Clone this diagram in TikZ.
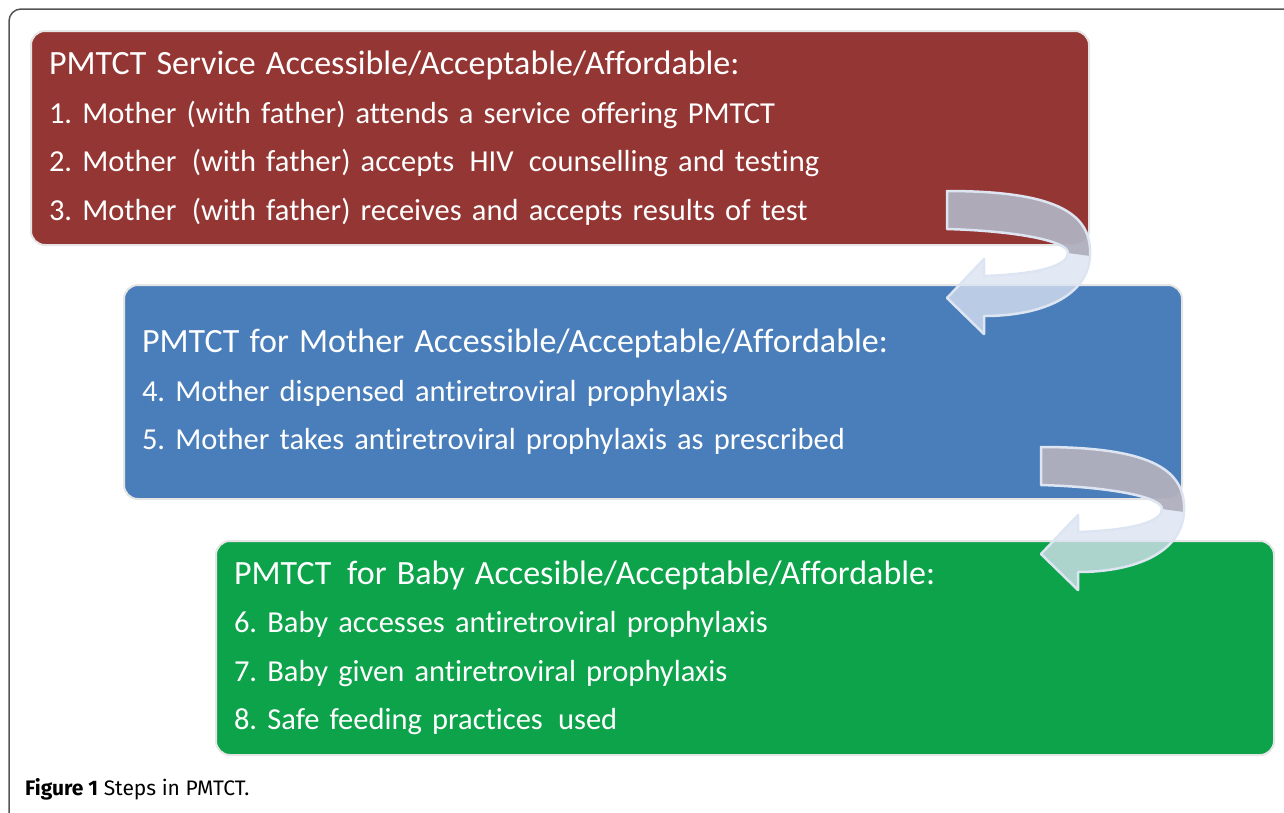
\documentclass[tikz,border=0pt]{standalone}
\usepackage{fontspec}
\setmainfont[Ligatures=CommonOff]{Carlito}
\newfontfamily\capfont{Fira Sans}
\usetikzlibrary{positioning}
\frenchspacing

\definecolor{pmtctred}{RGB}{148,54,52}
\definecolor{pmtctblue}{RGB}{74,126,187}
\definecolor{pmtctgreen}{RGB}{13,163,75}
\definecolor{arrowlight}{RGB}{218,226,241}
\definecolor{arrowdark}{RGB}{168,166,180}
\definecolor{arrowedge}{RGB}{222,229,242}
\definecolor{framegray}{RGB}{85,85,85}

\newcommand\stagehead[1]{{\fontsize{34}{48.5}\selectfont #1}}

\begin{document}
\begin{tikzpicture}[
  x=1pt, y=-1pt,
  stage/.style={rectangle, rounded corners=14pt, draw=black!10, line width=2pt,
    text=white, minimum width=1058pt, minimum height=214pt, text width=1022pt,
    inner xsep=18pt, align=left, anchor=north west,
    font=\fontsize{30.5}{48.5}\selectfont},
  turn/.pic={
    % light ribbon
    \fill[arrowlight, fill opacity=.78]
      (0,0) .. controls (115,0) and (145,25) .. (143,65)
      .. controls (141,105) and (95,125) .. (37,125)
      -- (37,143) -- (0,107) -- (37,68) -- (37,85)
      .. controls (95,83) and (121,74) .. (121,62)
      .. controls (121,50) and (70,40) .. (0,38) -- cycle;
    % darker back of the ribbon
    \fill[arrowdark, fill opacity=.8]
      (0,0) .. controls (115,0) and (145,25) .. (143,65)
      -- (121,62) .. controls (121,50) and (70,40) .. (0,38) -- cycle;
    \draw[arrowedge, line width=2.5pt, line join=round]
      (0,0) .. controls (115,0) and (145,25) .. (143,65)
      .. controls (141,105) and (95,125) .. (37,125)
      -- (37,143) -- (0,107) -- (37,68) -- (37,85)
      .. controls (95,83) and (121,74) .. (121,62)
      .. controls (121,50) and (70,40) .. (0,38) -- cycle;
  }]

  \useasboundingbox (0,0) rectangle (1284,812);
  \draw[framegray, line width=1.5pt, rounded corners=12pt]
    (1300,9) -- (9,9) -- (9,826) -- (1300,826);

  \node[stage, fill=pmtctred] (service) at (30,30) {%
    \stagehead{PMTCT Service Accessible/Acceptable/Affordable:}\\
    1. Mother (with father) attends a service offering PMTCT\\
    2. Mother\, (with father) accepts\, HIV\, counselling and testing\\
    3. Mother\, (with father) receives and accepts results of test};
  \node[stage, fill=pmtctblue, below right=38pt and 93pt of service.south west] (mother) {%
    \stagehead{PMTCT for Mother Accessible/Acceptable/Affordable:}\\
    4. Mother dispensed antiretroviral prophylaxis\\
    5. Mother takes antiretroviral prophylaxis as prescribed};
  \node[stage, fill=pmtctgreen, below right=40pt and 92pt of mother.south west] (baby) {%
    \stagehead{PMTCT\, for Baby Accesible/Acceptable/Affordable:}\\
    6. Baby accesses antiretroviral prophylaxis\\
    7. Baby given antiretroviral prophylaxis\\
    8. Safe feeding practices\, used};

  \pic at ([shift={(-143,-55)}]service.south east) {turn};
  \pic at ([shift={(-142,-53)}]mother.south east) {turn};

  \node[anchor=base west, inner sep=0pt, font=\capfont\fontsize{21}{24}\selectfont] (caption)
    at (25,795) {\textbf{Figure 1} Steps in PMTCT.};
\end{tikzpicture}
\end{document}
